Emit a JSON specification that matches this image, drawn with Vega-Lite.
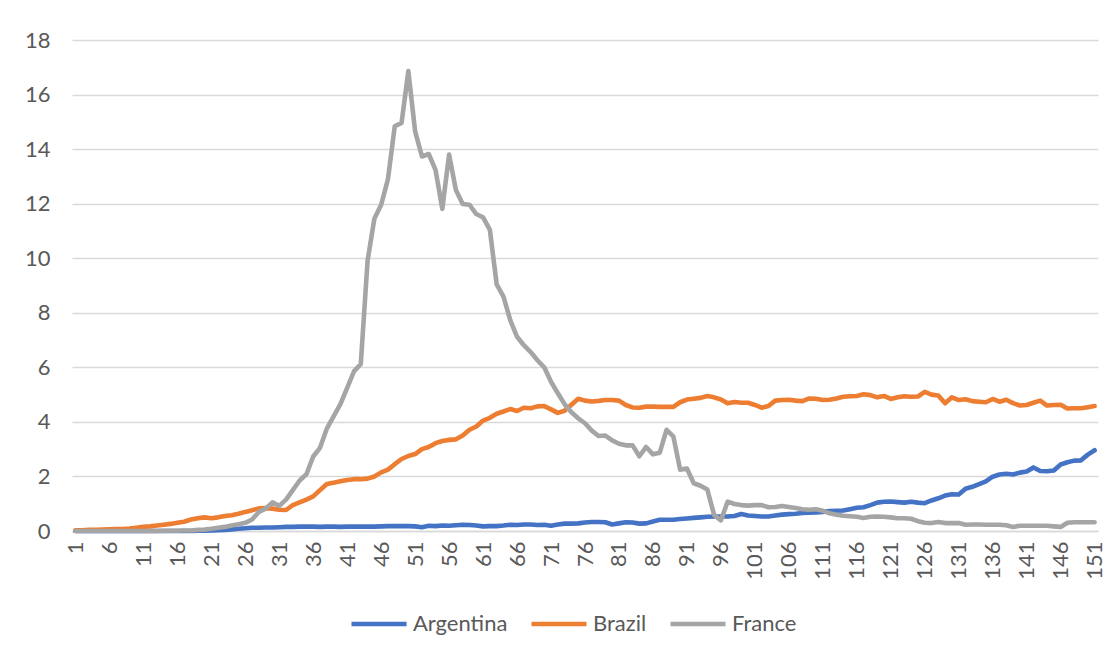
{
  "$schema": "https://vega.github.io/schema/vega-lite/v6.json",
  "autosize": "none",
  "width": 1026,
  "height": 491,
  "padding": {"left": 72, "top": 40, "right": 16, "bottom": 124},
  "background": "white",
  "config": {
    "view": {"stroke": null},
    "font": "Lato",
    "axis": {"labelFont": "Lato", "labelColor": "#595959", "ticks": false, "title": null},
    "legend": {"labelFont": "Lato", "labelColor": "#595959", "labelFontSize": 22}
  },
  "data": {
    "values": [
      {"d":1,"Argentina":0,"Brazil":0.03,"France":0},
      {"d":2,"Argentina":0,"Brazil":0.03,"France":0},
      {"d":3,"Argentina":0,"Brazil":0.04,"France":0},
      {"d":4,"Argentina":0,"Brazil":0.04,"France":0},
      {"d":5,"Argentina":0,"Brazil":0.05,"France":0},
      {"d":6,"Argentina":0,"Brazil":0.06,"France":0},
      {"d":7,"Argentina":0,"Brazil":0.07,"France":0},
      {"d":8,"Argentina":0,"Brazil":0.07,"France":0},
      {"d":9,"Argentina":0,"Brazil":0.09,"France":0},
      {"d":10,"Argentina":0,"Brazil":0.12,"France":0},
      {"d":11,"Argentina":0,"Brazil":0.15,"France":0},
      {"d":12,"Argentina":0,"Brazil":0.17,"France":0},
      {"d":13,"Argentina":0,"Brazil":0.2,"France":0},
      {"d":14,"Argentina":0,"Brazil":0.23,"France":0.01},
      {"d":15,"Argentina":0,"Brazil":0.26,"France":0.01},
      {"d":16,"Argentina":0,"Brazil":0.3,"France":0.01},
      {"d":17,"Argentina":0,"Brazil":0.34,"France":0.02},
      {"d":18,"Argentina":0,"Brazil":0.42,"France":0.02},
      {"d":19,"Argentina":0.01,"Brazil":0.47,"France":0.04},
      {"d":20,"Argentina":0.01,"Brazil":0.5,"France":0.05},
      {"d":21,"Argentina":0.02,"Brazil":0.47,"France":0.08},
      {"d":22,"Argentina":0.03,"Brazil":0.5,"France":0.12},
      {"d":23,"Argentina":0.04,"Brazil":0.55,"France":0.15},
      {"d":24,"Argentina":0.06,"Brazil":0.58,"France":0.2},
      {"d":25,"Argentina":0.08,"Brazil":0.63,"France":0.25},
      {"d":26,"Argentina":0.1,"Brazil":0.7,"France":0.3},
      {"d":27,"Argentina":0.12,"Brazil":0.76,"France":0.42},
      {"d":28,"Argentina":0.12,"Brazil":0.83,"France":0.7},
      {"d":29,"Argentina":0.13,"Brazil":0.84,"France":0.82},
      {"d":30,"Argentina":0.13,"Brazil":0.82,"France":1.05},
      {"d":31,"Argentina":0.14,"Brazil":0.78,"France":0.92},
      {"d":32,"Argentina":0.15,"Brazil":0.77,"France":1.15},
      {"d":33,"Argentina":0.15,"Brazil":0.95,"France":1.5},
      {"d":34,"Argentina":0.16,"Brazil":1.05,"France":1.85},
      {"d":35,"Argentina":0.16,"Brazil":1.15,"France":2.08},
      {"d":36,"Argentina":0.16,"Brazil":1.27,"France":2.73},
      {"d":37,"Argentina":0.15,"Brazil":1.5,"France":3.05},
      {"d":38,"Argentina":0.16,"Brazil":1.72,"France":3.75},
      {"d":39,"Argentina":0.16,"Brazil":1.77,"France":4.2},
      {"d":40,"Argentina":0.15,"Brazil":1.82,"France":4.65},
      {"d":41,"Argentina":0.16,"Brazil":1.87,"France":5.25},
      {"d":42,"Argentina":0.16,"Brazil":1.9,"France":5.85},
      {"d":43,"Argentina":0.16,"Brazil":1.9,"France":6.12},
      {"d":44,"Argentina":0.16,"Brazil":1.92,"France":9.9},
      {"d":45,"Argentina":0.16,"Brazil":2.0,"France":11.45},
      {"d":46,"Argentina":0.17,"Brazil":2.15,"France":11.96},
      {"d":47,"Argentina":0.18,"Brazil":2.25,"France":12.9},
      {"d":48,"Argentina":0.18,"Brazil":2.45,"France":14.84},
      {"d":49,"Argentina":0.18,"Brazil":2.64,"France":14.96},
      {"d":50,"Argentina":0.18,"Brazil":2.75,"France":16.86},
      {"d":51,"Argentina":0.17,"Brazil":2.82,"France":14.65},
      {"d":52,"Argentina":0.14,"Brazil":3.0,"France":13.73},
      {"d":53,"Argentina":0.19,"Brazil":3.08,"France":13.82},
      {"d":54,"Argentina":0.18,"Brazil":3.22,"France":13.24},
      {"d":55,"Argentina":0.2,"Brazil":3.3,"France":11.81},
      {"d":56,"Argentina":0.19,"Brazil":3.34,"France":13.8},
      {"d":57,"Argentina":0.21,"Brazil":3.36,"France":12.5},
      {"d":58,"Argentina":0.23,"Brazil":3.5,"France":11.99},
      {"d":59,"Argentina":0.22,"Brazil":3.71,"France":11.96},
      {"d":60,"Argentina":0.2,"Brazil":3.83,"France":11.62},
      {"d":61,"Argentina":0.17,"Brazil":4.05,"France":11.5},
      {"d":62,"Argentina":0.18,"Brazil":4.15,"France":11.04},
      {"d":63,"Argentina":0.18,"Brazil":4.3,"France":9.04},
      {"d":64,"Argentina":0.2,"Brazil":4.38,"France":8.59},
      {"d":65,"Argentina":0.23,"Brazil":4.47,"France":7.73},
      {"d":66,"Argentina":0.22,"Brazil":4.4,"France":7.12},
      {"d":67,"Argentina":0.24,"Brazil":4.52,"France":6.81},
      {"d":68,"Argentina":0.24,"Brazil":4.5,"France":6.56},
      {"d":69,"Argentina":0.22,"Brazil":4.57,"France":6.26},
      {"d":70,"Argentina":0.23,"Brazil":4.58,"France":6.0},
      {"d":71,"Argentina":0.19,"Brazil":4.46,"France":5.47},
      {"d":72,"Argentina":0.24,"Brazil":4.33,"France":5.05},
      {"d":73,"Argentina":0.27,"Brazil":4.41,"France":4.65},
      {"d":74,"Argentina":0.27,"Brazil":4.63,"France":4.35},
      {"d":75,"Argentina":0.28,"Brazil":4.85,"France":4.13},
      {"d":76,"Argentina":0.31,"Brazil":4.78,"France":3.95},
      {"d":77,"Argentina":0.33,"Brazil":4.75,"France":3.68},
      {"d":78,"Argentina":0.33,"Brazil":4.77,"France":3.48},
      {"d":79,"Argentina":0.32,"Brazil":4.8,"France":3.5},
      {"d":80,"Argentina":0.24,"Brazil":4.8,"France":3.32},
      {"d":81,"Argentina":0.28,"Brazil":4.78,"France":3.2},
      {"d":82,"Argentina":0.32,"Brazil":4.62,"France":3.14},
      {"d":83,"Argentina":0.31,"Brazil":4.53,"France":3.14},
      {"d":84,"Argentina":0.27,"Brazil":4.52,"France":2.74},
      {"d":85,"Argentina":0.28,"Brazil":4.56,"France":3.08},
      {"d":86,"Argentina":0.35,"Brazil":4.56,"France":2.81},
      {"d":87,"Argentina":0.41,"Brazil":4.55,"France":2.87},
      {"d":88,"Argentina":0.41,"Brazil":4.55,"France":3.71},
      {"d":89,"Argentina":0.41,"Brazil":4.55,"France":3.47},
      {"d":90,"Argentina":0.44,"Brazil":4.72,"France":2.25},
      {"d":91,"Argentina":0.46,"Brazil":4.82,"France":2.29},
      {"d":92,"Argentina":0.48,"Brazil":4.85,"France":1.75},
      {"d":93,"Argentina":0.5,"Brazil":4.88,"France":1.66},
      {"d":94,"Argentina":0.52,"Brazil":4.95,"France":1.52},
      {"d":95,"Argentina":0.53,"Brazil":4.9,"France":0.59},
      {"d":96,"Argentina":0.53,"Brazil":4.82,"France":0.39},
      {"d":97,"Argentina":0.53,"Brazil":4.68,"France":1.08},
      {"d":98,"Argentina":0.55,"Brazil":4.73,"France":0.99},
      {"d":99,"Argentina":0.62,"Brazil":4.7,"France":0.95},
      {"d":100,"Argentina":0.57,"Brazil":4.7,"France":0.93},
      {"d":101,"Argentina":0.55,"Brazil":4.62,"France":0.95},
      {"d":102,"Argentina":0.53,"Brazil":4.52,"France":0.95},
      {"d":103,"Argentina":0.53,"Brazil":4.58,"France":0.87},
      {"d":104,"Argentina":0.57,"Brazil":4.78,"France":0.88},
      {"d":105,"Argentina":0.6,"Brazil":4.8,"France":0.92},
      {"d":106,"Argentina":0.62,"Brazil":4.81,"France":0.88},
      {"d":107,"Argentina":0.63,"Brazil":4.78,"France":0.84},
      {"d":108,"Argentina":0.66,"Brazil":4.76,"France":0.8},
      {"d":109,"Argentina":0.67,"Brazil":4.86,"France":0.78},
      {"d":110,"Argentina":0.68,"Brazil":4.85,"France":0.8},
      {"d":111,"Argentina":0.7,"Brazil":4.8,"France":0.74},
      {"d":112,"Argentina":0.73,"Brazil":4.81,"France":0.65},
      {"d":113,"Argentina":0.74,"Brazil":4.86,"France":0.6},
      {"d":114,"Argentina":0.75,"Brazil":4.92,"France":0.56},
      {"d":115,"Argentina":0.8,"Brazil":4.94,"France":0.54},
      {"d":116,"Argentina":0.85,"Brazil":4.95,"France":0.52},
      {"d":117,"Argentina":0.87,"Brazil":5.01,"France":0.48},
      {"d":118,"Argentina":0.95,"Brazil":4.98,"France":0.52},
      {"d":119,"Argentina":1.04,"Brazil":4.9,"France":0.53},
      {"d":120,"Argentina":1.07,"Brazil":4.95,"France":0.52},
      {"d":121,"Argentina":1.08,"Brazil":4.84,"France":0.5},
      {"d":122,"Argentina":1.06,"Brazil":4.9,"France":0.47},
      {"d":123,"Argentina":1.04,"Brazil":4.94,"France":0.47},
      {"d":124,"Argentina":1.07,"Brazil":4.92,"France":0.45},
      {"d":125,"Argentina":1.04,"Brazil":4.93,"France":0.36},
      {"d":126,"Argentina":1.02,"Brazil":5.1,"France":0.3},
      {"d":127,"Argentina":1.12,"Brazil":5.0,"France":0.29},
      {"d":128,"Argentina":1.2,"Brazil":4.97,"France":0.33},
      {"d":129,"Argentina":1.3,"Brazil":4.68,"France":0.29},
      {"d":130,"Argentina":1.35,"Brazil":4.9,"France":0.29},
      {"d":131,"Argentina":1.34,"Brazil":4.8,"France":0.29},
      {"d":132,"Argentina":1.55,"Brazil":4.83,"France":0.23},
      {"d":133,"Argentina":1.62,"Brazil":4.76,"France":0.24},
      {"d":134,"Argentina":1.72,"Brazil":4.74,"France":0.24},
      {"d":135,"Argentina":1.82,"Brazil":4.72,"France":0.23},
      {"d":136,"Argentina":1.99,"Brazil":4.84,"France":0.23},
      {"d":137,"Argentina":2.07,"Brazil":4.74,"France":0.23},
      {"d":138,"Argentina":2.1,"Brazil":4.81,"France":0.21},
      {"d":139,"Argentina":2.07,"Brazil":4.69,"France":0.15},
      {"d":140,"Argentina":2.14,"Brazil":4.6,"France":0.19},
      {"d":141,"Argentina":2.18,"Brazil":4.62,"France":0.19},
      {"d":142,"Argentina":2.33,"Brazil":4.7,"France":0.19},
      {"d":143,"Argentina":2.2,"Brazil":4.78,"France":0.19},
      {"d":144,"Argentina":2.19,"Brazil":4.6,"France":0.19},
      {"d":145,"Argentina":2.22,"Brazil":4.62,"France":0.17},
      {"d":146,"Argentina":2.44,"Brazil":4.63,"France":0.15},
      {"d":147,"Argentina":2.52,"Brazil":4.49,"France":0.3},
      {"d":148,"Argentina":2.58,"Brazil":4.5,"France":0.32},
      {"d":149,"Argentina":2.59,"Brazil":4.5,"France":0.32},
      {"d":150,"Argentina":2.8,"Brazil":4.54,"France":0.32},
      {"d":151,"Argentina":2.96,"Brazil":4.58,"France":0.32}
    ]
  },
  "transform": [{"fold": ["Argentina", "Brazil", "France"], "as": ["country", "value"]}],
  "mark": {"type": "line", "strokeWidth": 4.6, "strokeCap": "round", "strokeJoin": "round"},
  "encoding": {
    "x": {
      "field": "d", "type": "ordinal",
      "scale": {"type": "point", "padding": 0.5},
      "axis": {
        "values": [1,6,11,16,21,26,31,36,41,46,51,56,61,66,71,76,81,86,91,96,101,106,111,116,121,126,131,136,141,146,151],
        "labelAngle": -90, "labelAlign": "right", "labelBaseline": "middle", "labelPadding": 10,
        "labelFontSize": 22,
        "domainColor": "#D9D9D9", "domainWidth": 1.3, "grid": false
      }
    },
    "y": {
      "field": "value", "type": "quantitative",
      "scale": {"domain": [0, 18], "nice": false, "zero": true},
      "axis": {
        "values": [0,2,4,6,8,10,12,14,16,18],
        "labelFontSize": 22,
        "domain": false, "grid": true, "gridColor": "#D9D9D9", "gridWidth": 1.3,
        "labelPadding": 22
      }
    },
    "color": {
      "field": "country", "type": "nominal",
      "scale": {"domain": ["Argentina", "Brazil", "France"], "range": ["#4472C4", "#ED7D31", "#A5A5A5"]},
      "legend": {
        "title": null, "orient": "none", "legendX": 277, "legendY": 554, "direction": "horizontal",
        "gridAlign": "none",
        "symbolType": "stroke", "symbolSize": 3025, "symbolStrokeWidth": 4.6,
        "labelOffset": 4, "columnPadding": 14
      }
    }
  }
}
